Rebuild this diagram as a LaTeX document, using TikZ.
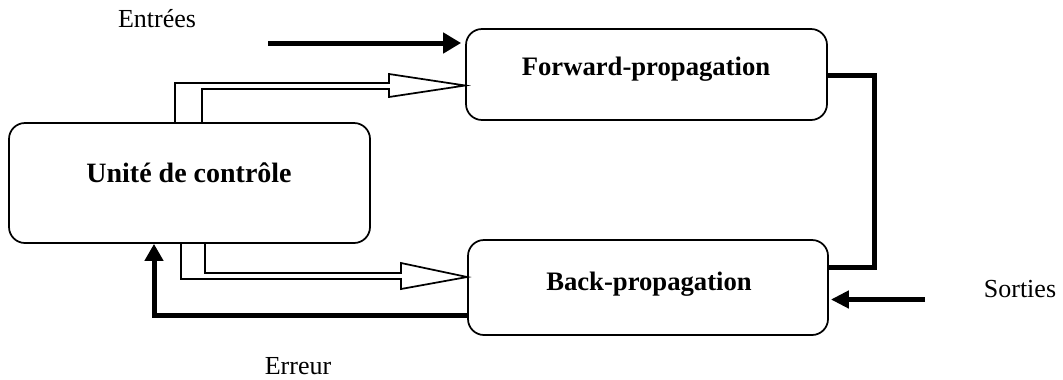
\documentclass[tikz,border=0pt]{standalone}
\usepackage{fontspec}
\setmainfont{Liberation Serif}
\usetikzlibrary{arrows.meta,calc}
\begin{document}
\begin{tikzpicture}[x=0.75pt,y=-0.75pt,
  box/.style={draw, line width=1.3pt, rounded corners=12pt, inner sep=0pt},
  lbl/.style={anchor=base, font=\fontsize{19.5pt}{22pt}\selectfont, inner sep=0pt},
  blbl/.style={anchor=base, font=\fontsize{20pt}{24pt}\selectfont\bfseries, inner sep=0pt},
  heavy/.style={line width=3.75pt, line join=miter},
  hollow/.style={draw, line width=1.3pt, line join=miter},
  bigtip/.style={-{Triangle[length=13.5pt,width=15pt]}}
]
\useasboundingbox (0,0) rectangle (1063,379);

% boxes
\node[box, minimum width=270.75pt, minimum height=90pt] (ctrl) at (189.5,183) {};
\node[box, minimum width=270.75pt, minimum height=68.25pt] (fwd) at (646.5,74.5) {};
\node[box, minimum width=270pt, minimum height=71.25pt] (back) at (648,287.5) {};

% box labels
\node[blbl, font=\fontsize{21pt}{25pt}\selectfont\bfseries] (ctrlt) at (189,182) {Unité de contrôle};
\node[blbl] (fwdt) at (646,75) {Forward-propagation};
\node[blbl] (backt) at (649,290) {Back-propagation};

% free labels
\node[lbl] (entrees) at (157,27) {Entrées};
\node[lbl] (sorties) at (1020,297) {Sorties};
\node[lbl] (erreur) at (298,374) {Erreur};

% inputs arrow
\coordinate (ein) at (268,43);
\draw[heavy, bigtip, shorten >=3pt] (ein) -- (ein -| fwd.west);

% outputs arrow
\coordinate (sin) at (925,299.5);
\draw[heavy, -{Triangle[length=13.5pt,width=12.75pt]}, shorten >=1.5pt] (sin) -- (sin -| back.east);

% forward -> back connector
\draw[heavy] (fwd.east |- 0,75) -- (874,75) -- (874,267) -- (back.east |- 0,267);

% error arrow
\draw[heavy, -{Triangle[length=12.75pt,width=13.5pt]}] (back.west |- 0,315) -- (154,315) -- (154,0 |- ctrl.south);

% hollow arrow to forward
\draw[hollow] (175,0 |- ctrl.north) -- (175,83) -- (389,83) -- (389,74) -- (fwd.west |- 0,85.5) -- (389,97) -- (389,89) -- (202,89) -- (202,0 |- ctrl.north);

% hollow arrow to back
\draw[hollow] (181,0 |- ctrl.south) -- (181,279) -- (401,279) -- (401,289) -- (back.west |- 0,277) -- (401,263) -- (401,273) -- (205,273) -- (205,0 |- ctrl.south);
\end{tikzpicture}
\end{document}
